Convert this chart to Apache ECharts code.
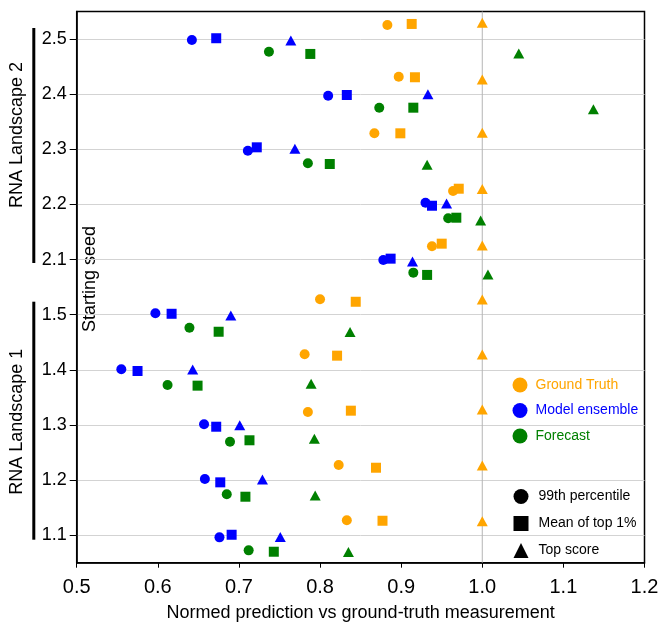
<!DOCTYPE html>
<html>
<head>
<meta charset="utf-8">
<script src="https://cdn.jsdelivr.net/npm/echarts@6/dist/echarts.min.js"></script>
<style>
  html, body { margin: 0; padding: 0; background: #fff; }
  #chart { width: 664px; height: 631px; }
</style>
</head>
<body>
<div id="chart"></div>
<script>
// row labels, top to bottom (landscape.seed)
const rowLabels = ['2.5', '2.4', '2.3', '2.2', '2.1', '1.5', '1.4', '1.3', '1.2', '1.1'];
const refX = 1.0;

// x = normed value, y = vertical offset inside the row (row height = 1)
const gtP99X = [0.883, 0.897, 0.867, 0.964, 0.938, 0.800, 0.781, 0.785, 0.823, 0.833];
const gtP99Y = [0.256, 0.317, 0.290, 0.243, 0.241, 0.278, 0.281, 0.234, 0.272, 0.269];
const gtTop1X = [0.913, 0.917, 0.899, 0.971, 0.950, 0.844, 0.821, 0.838, 0.869, 0.877];
const gtTop1Y = [0.274, 0.307, 0.290, 0.285, 0.288, 0.234, 0.256, 0.258, 0.223, 0.261];
const gtTopX = [1.0, 1.0, 1.0, 1.0, 1.0, 1.0, 1.0, 1.0, 1.0, 1.0];
const gtTopY = [0.295, 0.266, 0.298, 0.282, 0.255, 0.273, 0.276, 0.278, 0.262, 0.251];

const modelP99X = [0.642, 0.810, 0.711, 0.930, 0.878, 0.597, 0.555, 0.657, 0.658, 0.676];
const modelP99Y = [-0.016, -0.027, -0.025, 0.031, -0.007, 0.024, 0.009, 0.011, 0.018, -0.040];
const modelTop1X = [0.672, 0.833, 0.722, 0.938, 0.887, 0.617, 0.575, 0.672, 0.677, 0.691];
const modelTop1Y = [0.015, -0.015, 0.036, -0.024, 0.016, 0.016, -0.022, -0.033, -0.042, 0.007];
const modelTopX = [0.764, 0.933, 0.769, 0.956, 0.914, 0.690, 0.643, 0.701, 0.729, 0.751];
const modelTopY = [-0.026, -0.001, 0.008, 0.015, -0.036, -0.017, 0.004, -0.007, 0.008, -0.032];

const fcP99X = [0.737, 0.873, 0.785, 0.958, 0.915, 0.639, 0.612, 0.689, 0.685, 0.712];
const fcP99Y = [-0.229, -0.245, -0.254, -0.252, -0.238, -0.238, -0.276, -0.305, -0.259, -0.276];
const fcTop1X = [0.788, 0.915, 0.812, 0.968, 0.932, 0.675, 0.649, 0.713, 0.708, 0.743];
const fcTop1Y = [-0.270, -0.245, -0.267, -0.241, -0.279, -0.310, -0.288, -0.279, -0.303, -0.301];
const fcTopX = [1.045, 1.137, 0.932, 0.998, 1.007, 0.837, 0.789, 0.793, 0.794, 0.835];
const fcTopY = [-0.262, -0.273, -0.282, -0.293, -0.271, -0.313, -0.255, -0.253, -0.282, -0.304];

const ORANGE = '#FFA500', BLUE = '#0000FF', GREEN = '#008000';
const FONT = '"Liberation Sans", Arial, sans-serif';

// row i (0 = top) sits at 9.5 - i on the value axis
function points(xs, offs) {
  return xs.map(function (x, i) { return [x, 9.5 - i + offs[i]]; });
}
const rowCenters = rowLabels.map(function (l, i) { return 9.5 - i; });

function sc(name, color, symbol, xs, offs) {
  return {
    name: name,
    type: 'scatter',
    symbol: symbol,
    symbolSize: symbol === 'triangle' ? [11, 10] : 10,
    itemStyle: { color: color, opacity: 1 },
    emphasis: { disabled: true },
    z: 3,
    data: points(xs, offs)
  };
}
function legendSeries(name, color, symbol) {
  return { name: name, type: 'scatter', symbol: symbol, itemStyle: { color: color, opacity: 1 }, data: [] };
}

const chart = echarts.init(document.getElementById('chart'), null, { renderer: 'canvas' });

const option = {
  animation: false,
  grid: {
    left: 76.7, right: 19.5, top: 11.5, bottom: 68.3,
    show: true, borderColor: '#000', borderWidth: 1.5
  },
  xAxis: {
    type: 'value',
    min: 0.5, max: 1.2, interval: 0.1,
    axisLine: { show: true, lineStyle: { color: '#000', width: 1.5 } },
    axisTick: { show: true, length: 5, lineStyle: { color: '#000' } },
    axisLabel: {
      margin: 15, fontSize: 20, color: '#000', fontFamily: FONT,
      formatter: function (v) { return v.toFixed(1); }
    },
    splitLine: { show: false },
    name: 'Normed prediction vs ground-truth measurement',
    nameLocation: 'middle', nameGap: 41,
    nameTextStyle: { fontSize: 18, color: '#000', fontFamily: FONT }
  },
  yAxis: {
    type: 'value',
    min: 0, max: 10, interval: 1,
    axisLine: { show: true, lineStyle: { color: '#000', width: 1.5 } },
    axisTick: { show: true, length: 7, customValues: rowCenters, lineStyle: { color: '#000' } },
    axisLabel: {
      margin: 10, fontSize: 18, color: '#000', fontFamily: FONT,
      customValues: rowCenters,
      formatter: function (v) { return rowLabels[Math.round(9.5 - v)]; }
    },
    splitLine: { show: true, lineStyle: { color: '#d3d3d3', width: 1 } }
  },
  legend: [{
    orient: 'vertical', left: 512.5, top: 377.5, padding: 0,
    itemWidth: 15, itemHeight: 15, itemGap: 10.5, selectedMode: false,
    textStyle: { fontSize: 14, fontFamily: FONT, padding: [0, 0, 0, 3] },
    data: [
      { name: 'Ground Truth', textStyle: { color: ORANGE } },
      { name: 'Model ensemble', textStyle: { color: BLUE } },
      { name: 'Forecast', textStyle: { color: GREEN } }
    ]
  }, {
    orient: 'vertical', left: 513.5, top: 489, padding: 0,
    itemWidth: 15, itemHeight: 15, itemGap: 12, selectedMode: false,
    textStyle: { fontSize: 14, fontFamily: FONT, color: '#000', padding: [0, 0, 0, 5] },
    data: ['99th percentile', 'Mean of top 1%', 'Top score']
  }],
  graphic: [
    { type: 'rect', shape: { x: 32.3, y: 28, width: 3, height: 235 }, style: { fill: '#000' } },
    { type: 'rect', shape: { x: 32.3, y: 301.7, width: 3, height: 238 }, style: { fill: '#000' } },
    { type: 'text', x: 17.5, y: 135, rotation: Math.PI / 2,
      style: { text: 'RNA Landscape 2', fontSize: 18, fontFamily: FONT, fill: '#000', align: 'center', verticalAlign: 'middle' } },
    { type: 'text', x: 17.5, y: 421.7, rotation: Math.PI / 2,
      style: { text: 'RNA Landscape 1', fontSize: 18, fontFamily: FONT, fill: '#000', align: 'center', verticalAlign: 'middle' } },
    { type: 'text', x: 90.5, y: 279, rotation: Math.PI / 2,
      style: { text: 'Starting seed', fontSize: 18, fontFamily: FONT, fill: '#000', align: 'center', verticalAlign: 'middle' } }
  ],
  series: [
    {
      // vertical reference line at x = 1.0, behind the markers
      name: 'ref', type: 'line', z: 1, symbol: 'none', silent: true,
      lineStyle: { color: '#b5b5b5', width: 1 },
      data: [[refX, 0], [refX, 10]]
    },
    sc('gt-p99', ORANGE, 'circle', gtP99X, gtP99Y),
    sc('gt-top1', ORANGE, 'rect', gtTop1X, gtTop1Y),
    sc('gt-top', ORANGE, 'triangle', gtTopX, gtTopY),
    sc('model-p99', BLUE, 'circle', modelP99X, modelP99Y),
    sc('model-top1', BLUE, 'rect', modelTop1X, modelTop1Y),
    sc('model-top', BLUE, 'triangle', modelTopX, modelTopY),
    sc('fc-p99', GREEN, 'circle', fcP99X, fcP99Y),
    sc('fc-top1', GREEN, 'rect', fcTop1X, fcTop1Y),
    sc('fc-top', GREEN, 'triangle', fcTopX, fcTopY),
    legendSeries('Ground Truth', ORANGE, 'circle'),
    legendSeries('Model ensemble', BLUE, 'circle'),
    legendSeries('Forecast', GREEN, 'circle'),
    legendSeries('99th percentile', '#000', 'circle'),
    legendSeries('Mean of top 1%', '#000', 'rect'),
    legendSeries('Top score', '#000', 'triangle')
  ]
};

chart.setOption(option);
</script>
</body>
</html>
